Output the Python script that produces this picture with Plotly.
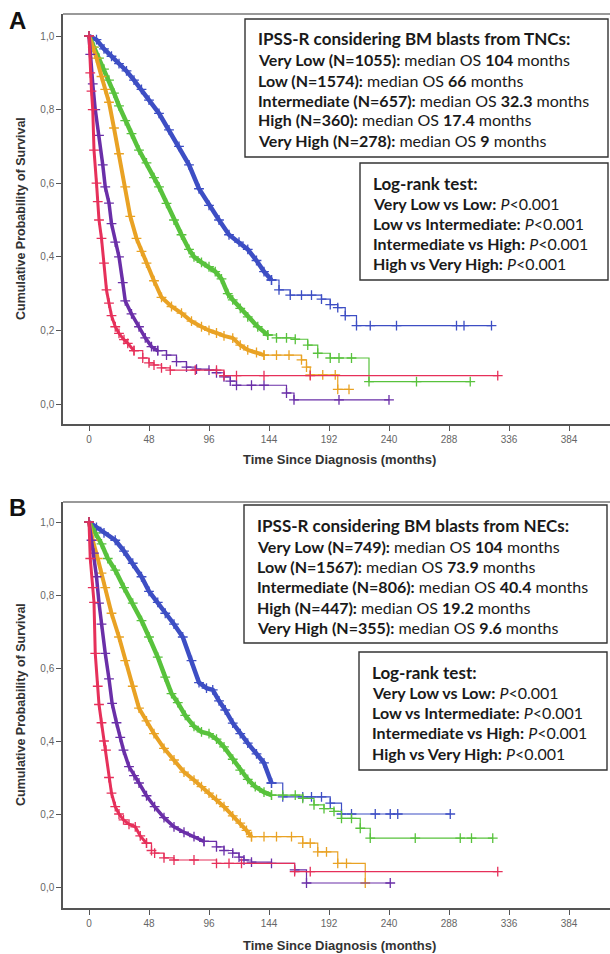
import plotly.graph_objects as go

W, H = 610, 954

# ---------------- data: panel A (BM blasts from TNCs) ----------------
A_vlow_t = [0, 6, 12, 18, 24, 30, 36, 42, 48, 56, 64, 72, 80, 88, 96, 104, 112, 120, 127, 134, 140, 146, 152, 161, 170, 178, 186, 193, 199, 205, 214, 225, 246, 294, 300, 322]
A_vlow_s = [1.0, 0.99, 0.965, 0.945, 0.925, 0.905, 0.88, 0.855, 0.826, 0.79, 0.745, 0.70, 0.65, 0.585, 0.54, 0.50, 0.46, 0.44, 0.42, 0.39, 0.36, 0.337, 0.31, 0.296, 0.296, 0.296, 0.285, 0.27, 0.262, 0.24, 0.213, 0.213, 0.213, 0.213, 0.213, 0.213]

A_low_t = [0, 4, 8, 12, 16, 20, 24, 29, 34, 40, 46, 52, 56, 62, 68, 74, 80, 84, 90, 96, 101, 106, 111, 115, 121, 127, 135, 143, 150, 158, 165, 175, 183, 193, 200, 210, 224, 262, 305]
A_low_s = [1.0, 0.97, 0.94, 0.91, 0.88, 0.845, 0.81, 0.77, 0.735, 0.69, 0.655, 0.615, 0.59, 0.545, 0.50, 0.46, 0.42, 0.40, 0.385, 0.373, 0.36, 0.34, 0.30, 0.283, 0.26, 0.237, 0.21, 0.1875, 0.18, 0.18, 0.176, 0.16, 0.138, 0.125, 0.125, 0.125, 0.061, 0.061, 0.061]

A_int_t = [0, 3, 6, 10, 13, 16, 20, 24, 29, 33, 38, 42, 46, 52, 58, 66, 74, 82, 90, 96, 102, 108, 115, 121, 127, 134, 140, 150, 160, 170, 174, 177, 187, 197, 199, 208]
A_int_s = [1.0, 0.97, 0.94, 0.89, 0.855, 0.82, 0.75, 0.68, 0.59, 0.51, 0.45, 0.415, 0.383, 0.335, 0.29, 0.265, 0.247, 0.225, 0.21, 0.20, 0.193, 0.185, 0.179, 0.16, 0.147, 0.14, 0.133, 0.133, 0.133, 0.12, 0.10, 0.079, 0.079, 0.079, 0.04, 0.04]

A_high_t = [0, 1, 3, 5, 8, 11, 13, 16, 18, 21, 24, 27, 29, 34, 40, 45, 50, 55, 62, 70, 78, 86, 96, 102, 108, 113, 118, 130, 140, 158, 164, 200, 240]
A_high_s = [1.0, 0.95, 0.87, 0.80, 0.73, 0.65, 0.59, 0.546, 0.49, 0.44, 0.40, 0.33, 0.28, 0.245, 0.21, 0.18, 0.156, 0.145, 0.133, 0.115, 0.10, 0.095, 0.092, 0.085, 0.074, 0.062, 0.051, 0.051, 0.051, 0.03, 0.011, 0.011, 0.011]

A_vhigh_t = [0, 1, 2, 3, 4, 6, 7, 8, 10, 12, 14, 16, 18, 21, 24, 28, 31, 36, 43, 48, 52, 58, 65, 85, 102, 108, 118, 140, 177, 327]
A_vhigh_s = [1.0, 0.9, 0.85, 0.8, 0.69, 0.6, 0.55, 0.5, 0.45, 0.383, 0.31, 0.274, 0.24, 0.21, 0.192, 0.175, 0.165, 0.145, 0.125, 0.112, 0.106, 0.098, 0.092, 0.092, 0.092, 0.077, 0.077, 0.077, 0.077, 0.077]

# ---------------- data: panel B (BM blasts from NECs) ----------------
B_vlow_t = [0, 6, 12, 21, 28, 35, 42, 48, 55, 61, 68, 75, 82, 88, 94, 99, 104, 109, 115, 121, 127, 134, 140, 146, 155, 171, 178, 186, 193, 202, 210, 229, 241, 247, 289]
B_vlow_s = [1.0, 0.985, 0.97, 0.95, 0.92, 0.887, 0.85, 0.81, 0.78, 0.75, 0.72, 0.685, 0.62, 0.56, 0.545, 0.54, 0.51, 0.485, 0.449, 0.42, 0.394, 0.365, 0.34, 0.285, 0.247, 0.247, 0.247, 0.247, 0.23, 0.20, 0.20, 0.20, 0.20, 0.20, 0.20]

B_low_t = [0, 5, 10, 15, 21, 28, 35, 42, 48, 55, 61, 66, 71, 77, 84, 90, 96, 102, 108, 115, 121, 127, 133, 140, 146, 155, 165, 171, 180, 188, 196, 202, 210, 217, 225, 261, 297, 306, 323]
B_low_s = [1.0, 0.97, 0.94, 0.90, 0.868, 0.82, 0.778, 0.73, 0.685, 0.63, 0.575, 0.53, 0.505, 0.47, 0.44, 0.425, 0.42, 0.405, 0.384, 0.35, 0.32, 0.295, 0.275, 0.26, 0.252, 0.252, 0.252, 0.243, 0.225, 0.215, 0.207, 0.188, 0.188, 0.161, 0.134, 0.134, 0.134, 0.134, 0.134]

B_int_t = [0, 3, 7, 10, 13, 18, 24, 29, 35, 40, 46, 52, 60, 68, 76, 84, 90, 96, 102, 108, 115, 121, 126, 130, 140, 150, 162, 171, 177, 183, 190, 199, 206, 221]
B_int_s = [1.0, 0.95, 0.90, 0.86, 0.82, 0.75, 0.685, 0.62, 0.55, 0.49, 0.455, 0.42, 0.38, 0.348, 0.315, 0.293, 0.275, 0.257, 0.24, 0.22, 0.195, 0.175, 0.155, 0.138, 0.138, 0.138, 0.138, 0.12, 0.12, 0.096, 0.096, 0.065, 0.065, 0.011]

B_high_t = [0, 2, 4, 6, 8, 10, 13, 16, 18.5, 22, 25, 27.6, 32, 36, 40, 46, 52.5, 60, 68, 76, 84, 92, 102, 108, 115, 120, 124, 130, 146, 164.5, 174, 241]
B_high_s = [1.0, 0.95, 0.915, 0.85, 0.778, 0.72, 0.64, 0.57, 0.503, 0.45, 0.41, 0.375, 0.33, 0.305, 0.285, 0.25, 0.22, 0.19, 0.165, 0.15, 0.138, 0.125, 0.11, 0.10, 0.093, 0.082, 0.074, 0.068, 0.065, 0.047, 0.011, 0.011]

B_vhigh_t = [0, 1, 3, 4, 5, 7, 8, 10, 12, 13.6, 16, 18, 21, 24, 27.6, 32, 37, 41, 46, 50, 52.5, 60, 68, 84, 102, 112, 122, 164.5, 177, 327]
B_vhigh_s = [1.0, 0.9, 0.82, 0.78, 0.64, 0.55, 0.50, 0.45, 0.40, 0.375, 0.30, 0.257, 0.22, 0.20, 0.184, 0.172, 0.165, 0.14, 0.12, 0.10, 0.093, 0.08, 0.074, 0.074, 0.065, 0.065, 0.065, 0.042, 0.042, 0.042]

# ---------------- text data ----------------
groups = ["Very Low", "Low", "Intermediate", "High", "Very High"]
A_n = [1055, 1574, 657, 360, 278]
A_median = ["104", "66", "32.3", "17.4", "9"]
B_n = [749, 1567, 806, 447, 355]
B_median = ["104", "73.9", "40.4", "19.2", "9.6"]
comparisons = ["Very Low vs Low", "Low vs Intermediate", "Intermediate vs High", "High vs Very High"]
p_values = ["<0.001", "<0.001", "<0.001", "<0.001"]

x_tickvals = [0, 48, 96, 144, 192, 240, 288, 336, 384]
y_tickvals = [0.0, 0.2, 0.4, 0.6, 0.8, 1.0]
y_ticktext = ["0,0", "0,2", "0,4", "0,6", "0,8", "1,0"]

colors = ["#3D4EC4", "#58C23C", "#E9A224", "#6A2FA8", "#E6305A"]

curves_A = [(A_vlow_t, A_vlow_s), (A_low_t, A_low_s), (A_int_t, A_int_s), (A_high_t, A_high_s), (A_vhigh_t, A_vhigh_s)]
curves_B = [(B_vlow_t, B_vlow_s), (B_low_t, B_low_s), (B_int_t, B_int_s), (B_high_t, B_high_s), (B_vhigh_t, B_vhigh_s)]
for t, s in curves_A + curves_B:
    assert len(t) == len(s)

# style: where the dense band of censor marks ends, and its drawn thickness
dense_A = [146, 143, 140, 55, 36]
dense_B = [146, 146, 130, 92, 46]
band_w = [4.5, 4.5, 4.0, 3.5, 3.0]


def fx(px):
    return px / W


def fy(py):
    return 1 - py / H


fig = go.Figure()


def add_curves(curves, dense, xa, ya):
    for (t, s), c, d, bw in zip(curves, colors, dense, band_w):
        k = len([ti for ti in t if ti <= d])
        mk = dict(symbol="cross-thin", size=7, color=c, line=dict(width=1.3, color=c))
        fig.add_trace(go.Scatter(
            x=t[k - 1:], y=s[k - 1:], xaxis=xa, yaxis=ya, mode="lines+markers",
            line=dict(color=c, width=1.2, shape="hv"), marker=mk,
            showlegend=False, hoverinfo="skip"))
        fig.add_trace(go.Scatter(
            x=t[:k], y=s[:k], xaxis=xa, yaxis=ya, mode="lines+markers",
            line=dict(color=c, width=bw), marker=mk,
            showlegend=False, hoverinfo="skip"))


add_curves(curves_A, dense_A, "x", "y")
add_curves(curves_B, dense_B, "x2", "y2")

axis_common = dict(showline=True, linecolor="#555", linewidth=1.5, ticks="outside",
                   ticklen=5, tickcolor="#555", tickwidth=1.2, showgrid=False, zeroline=False,
                   tickfont=dict(family="Arial", size=10, color="#666"))

x_range = [-20.8, 416.8]
fig.update_layout(
    width=W, height=H, margin=dict(l=0, r=0, t=0, b=0),
    paper_bgcolor="white", plot_bgcolor="white",
    xaxis=dict(domain=[fx(63), 1], range=x_range, anchor="y", tickvals=x_tickvals, **axis_common),
    yaxis=dict(domain=[fy(424), fy(14)], range=[-0.0543, 1.0598], anchor="x",
               tickvals=y_tickvals, ticktext=y_ticktext, **axis_common),
    xaxis2=dict(domain=[fx(63), 1], range=x_range, anchor="y2", tickvals=x_tickvals, **axis_common),
    yaxis2=dict(domain=[fy(908), fy(502)], range=[-0.0575, 1.0548], anchor="x2",
                tickvals=y_tickvals, ticktext=y_ticktext, **axis_common),
)

shapes = []
for ytop in (14, 502):
    shapes.append(dict(type="line", xref="paper", yref="paper", x0=fx(63), x1=1, y0=fy(ytop), y1=fy(ytop),
                       line=dict(color="#777", width=1.5)))
boxes = [(245, 608, 19, 157), (360, 608, 163, 280), (244, 607, 505, 643), (359, 607, 652, 770)]
for x0, x1, y0, y1 in boxes:
    shapes.append(dict(type="rect", xref="paper", yref="paper", x0=fx(x0), x1=fx(x1), y0=fy(y1), y1=fy(y0),
                       line=dict(color="#333", width=1.4), fillcolor="white", layer="above"))
fig.update_layout(shapes=shapes)

ann = []
FAM = "Lato, Noto Sans, sans-serif"


def text(x, y, s, size):
    ann.append(dict(xref="paper", yref="paper", x=fx(x), y=fy(y), text=s, showarrow=False,
                    xanchor="left", yanchor="middle", font=dict(family=FAM, size=size, color="#1a1a1a")))


panels = [
    dict(tag="TNCs", n=A_n, med=A_median, x1=256, y_title=38, rows=[59, 80, 100, 120, 140],
         x2=371, y_lr=183, rows2=[203, 223, 243, 264]),
    dict(tag="NECs", n=B_n, med=B_median, x1=255, y_title=525, rows=[546, 566, 586, 607, 627],
         x2=370, y_lr=672, rows2=[692, 712, 732, 753]),
]
for p in panels:
    text(p["x1"], p["y_title"], "<b>IPSS-R considering BM blasts from %s:</b>" % p["tag"], 17)
    for g, n, m, yy in zip(groups, p["n"], p["med"], p["rows"]):
        text(p["x1"], yy, "<b>%s (N=%d):</b> median OS <b>%s</b> months" % (g, n, m), 16)
    text(p["x2"], p["y_lr"], "<b>Log-rank test:</b>", 17)
    for cmp_, pv, yy in zip(comparisons, p_values, p["rows2"]):
        text(p["x2"], yy, "<b>%s:</b> <i>P</i>%s" % (cmp_, pv.replace("<", "&lt;")), 16)

for letter, yy in (("A", 21), ("B", 507)):
    ann.append(dict(xref="paper", yref="paper", x=fx(17), y=fy(yy), text="<b>%s</b>" % letter,
                    showarrow=False, xanchor="center", yanchor="middle",
                    font=dict(family="Arial", size=24, color="#111")))
for yc in (219, 705):
    ann.append(dict(xref="paper", yref="paper", x=fx(21), y=fy(yc), text="<b>Cumulative Probability of Survival</b>",
                    showarrow=False, textangle=-90, xanchor="center", yanchor="middle",
                    font=dict(family="Arial", size=12.5, color="#333")))
for yc in (460, 945):
    ann.append(dict(xref="paper", yref="paper", x=fx(340), y=fy(yc), text="<b>Time Since Diagnosis (months)</b>",
                    showarrow=False, xanchor="center", yanchor="middle",
                    font=dict(family="Arial", size=13, color="#333")))
fig.update_layout(annotations=ann)

fig.write_html("out.html", config={"displayModeBar": False},
               post_script="document.body.style.margin='0';document.body.style.overflow='hidden';")
